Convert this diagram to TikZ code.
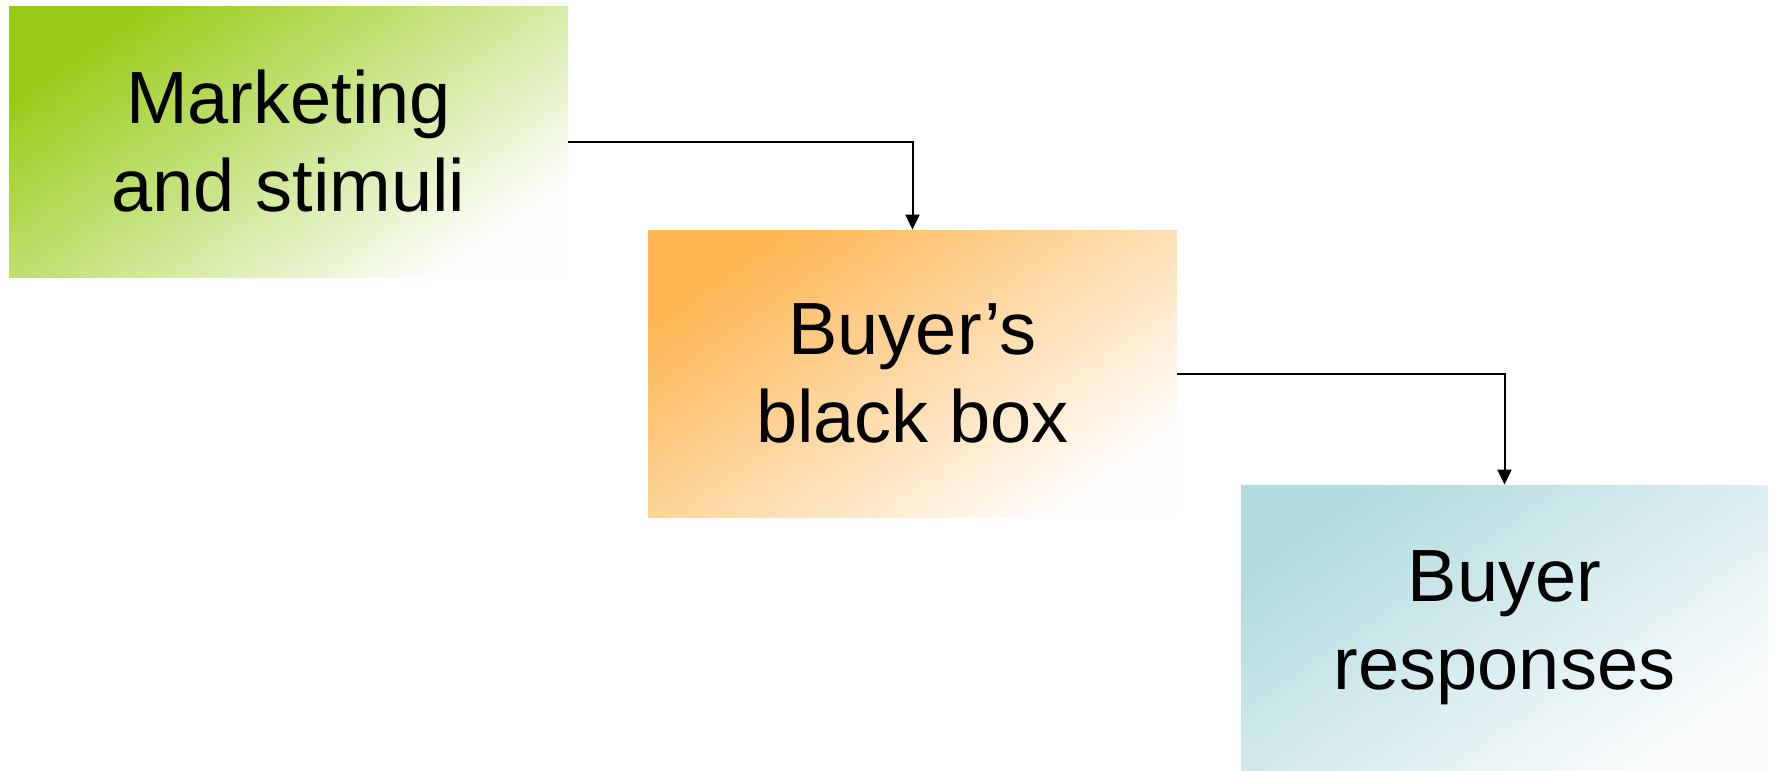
\documentclass[tikz,border=0pt]{standalone}
\usepackage{fontspec}
\setmainfont{Liberation Sans}
\usetikzlibrary{arrows.meta}

\definecolor{greenTL}{RGB}{152,204,24}
\definecolor{greenMid}{RGB}{210,231,180}
\definecolor{greenBR}{RGB}{253,254,252}
\definecolor{orangeTL}{RGB}{253,182,82}
\definecolor{orangeMid}{RGB}{254,220,180}
\definecolor{orangeBR}{RGB}{255,253,251}
\definecolor{tealTL}{RGB}{178,219,223}
\definecolor{tealMid}{RGB}{215,236,239}
\definecolor{tealBR}{RGB}{250,252,253}

\tikzset{
  stagebox/.style n args={3}{
    rectangle, inner sep=0pt, align=center,
    font=\fontsize{37}{44}\selectfont,
    top color=#1, middle color=#2, bottom color=#3,
    shading angle=35
  },
  flow/.style={line width=1pt, -{Triangle[width=7pt,length=7.5pt]}}
}

\begin{document}
\begin{tikzpicture}[x=0.5pt,y=-0.5pt]
  \useasboundingbox (0,0) rectangle (1774,771);

  \node[stagebox={greenTL}{greenMid}{greenBR},
        minimum width=279.5pt, minimum height=135.5pt]
    (stim) at (288.5,141.5) {Marketing\\and stimuli};

  \node[stagebox={orangeTL}{orangeMid}{orangeBR},
        minimum width=264.5pt, minimum height=143.5pt]
    (bbox) at (912.5,373.5) {Buyer’s\\black box};

  \node[stagebox={tealTL}{tealMid}{tealBR},
        minimum width=263.5pt, minimum height=143pt]
    (resp) at (1504.5,628) {Buyer\\responses};

  \draw[flow] (stim.east) -| (bbox.north);
  \draw[flow] (bbox.east) -| (resp.north);
\end{tikzpicture}
\end{document}
